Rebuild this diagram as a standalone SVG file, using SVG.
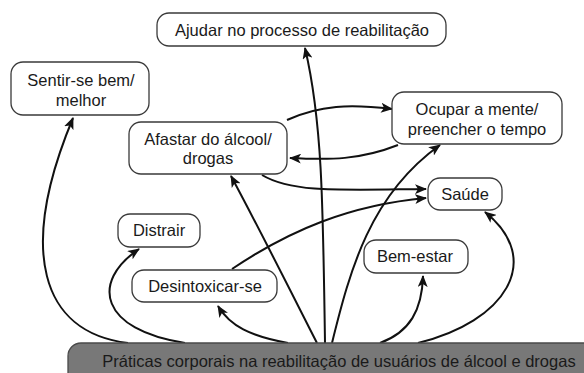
<svg xmlns="http://www.w3.org/2000/svg" width="584" height="373" viewBox="0 0 584 373">
<style>
.box{fill:#fff;stroke:#3a3a3a;stroke-width:1.3}
.t{font-family:"Liberation Sans",Arial,sans-serif;font-size:16.5px;fill:#1a1a1a;text-anchor:middle}
.c{fill:none;stroke:#111;stroke-width:2;marker-end:url(#ah)}
.bar{fill:#787878;stroke:#4a4a4a;stroke-width:1.3}
</style>
<defs>
<marker id="ah" viewBox="0 0 12 10" refX="11" refY="5" markerWidth="12" markerHeight="10" markerUnits="userSpaceOnUse" orient="auto">
<path d="M0,0 L12,5 L0,10 L3,5 z" fill="#111"/>
</marker>
</defs>
<g id="connectors">
<path class="c" d="M128,343 C40,332 18,250 73,118"/>
<path class="c" d="M185,343 C100,330 90,282 139,249"/>
<path class="c" d="M288,343 C250,336 230,326 218,306"/>
<path class="c" d="M317,343 C290,290 260,230 231,176"/>
<path class="c" d="M325,343 C323,200 322,120 305,48"/>
<path class="c" d="M332,343 C350,270 370,195 440,145"/>
<path class="c" d="M380,343 C410,332 422,310 423,276"/>
<path class="c" d="M418,343 C505,322 545,260 485,212"/>
<path class="c" d="M232,269 C290,230 350,205 426,198"/>
<path class="c" d="M262,175 C292,193 340,190 426,189"/>
<path class="c" d="M287,120 C320,105 350,104 392,109"/>
<path class="c" d="M398,145 C360,160 330,160 290,158"/>
</g>
<g id="ajudar"><rect class="box" x="157" y="13" width="289" height="33" rx="12"/><text class="t" x="302" y="36">Ajudar no processo de reabilitação</text></g>
<g id="sentir"><rect class="box" x="11" y="62" width="138" height="53" rx="12"/><text class="t" x="81" y="86">Sentir-se bem/</text><text class="t" x="81" y="106">melhor</text></g>
<g id="afastar"><rect class="box" x="129" y="122" width="158" height="52" rx="12"/><text class="t" x="208" y="145">Afastar do álcool/</text><text class="t" x="208" y="164">drogas</text></g>
<g id="ocupar"><rect class="box" x="392" y="92" width="170" height="52" rx="12"/><text class="t" x="477" y="115">Ocupar a mente/</text><text class="t" x="477" y="135">preencher o tempo</text></g>
<g id="saude"><rect class="box" x="428" y="178" width="74" height="32" rx="12"/><text class="t" x="465" y="200">Saúde</text></g>
<g id="distrair"><rect class="box" x="118" y="214" width="82" height="33" rx="12"/><text class="t" x="159" y="236">Distrair</text></g>
<g id="desintoxicar"><rect class="box" x="132" y="270" width="145" height="32" rx="12"/><text class="t" x="205" y="292">Desintoxicar-se</text></g>
<g id="bemestar"><rect class="box" x="364" y="240" width="104" height="33" rx="12"/><text class="t" x="415" y="262">Bem-estar</text></g>
<g id="praticas"><rect class="bar" x="68" y="343" width="530" height="45" rx="13"/><text class="t" x="339" y="367">Práticas corporais na reabilitação de usuários de álcool e drogas</text></g>
</svg>
